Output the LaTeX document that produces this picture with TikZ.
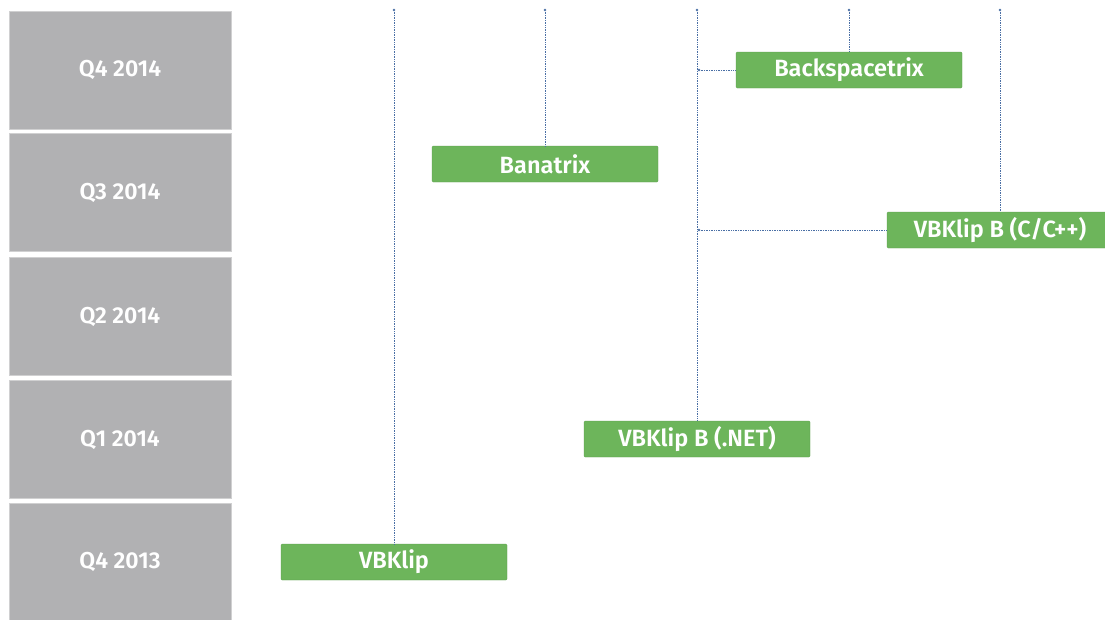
\documentclass[tikz,border=0pt]{standalone}
\usepackage{fontspec}
\setmainfont{Fira Sans}[BoldFont={Fira Sans SemiBold}]
\usepackage{tikz}
\definecolor{qgray}{HTML}{B1B1B3}
\definecolor{pgreen}{HTML}{6DB55B}
\definecolor{lblue}{HTML}{4A6FA5}

\begin{document}
\begin{tikzpicture}[x=1pt,y=-1pt,
  q/.style={rectangle,fill=qgray,draw=qgray!60,line width=.4pt,minimum width=222pt,minimum height=118pt,inner sep=0pt,text=white,font=\fontsize{23}{23}\selectfont\bfseries},
  p/.style={rectangle,fill=pgreen,draw=pgreen!85!black,line width=.3pt,rounded corners=1pt,minimum width=226pt,minimum height=36pt,inner sep=0pt,text=white,font=\fontsize{23.5}{23.5}\selectfont\bfseries},
  tip/.style={circle,fill=lblue,inner sep=0pt,minimum size=2.6pt},
  link/.style={draw=lblue,line width=.9pt,dash pattern=on .7pt off 1pt}
]
  \useasboundingbox (0,0) rectangle (1105,619);
  % quarters
  \node[q] (q1) at (120,70) {Q4 2014};
  \node[q] (q2) at (120,192.5) {Q3 2014};
  \node[q] (q3) at (120,316.5) {Q2 2014};
  \node[q] (q4) at (120,439.5) {Q1 2014};
  \node[q] (q5) at (120,562) {Q4 2013};
  % products
  \node[p] (vbk) at (394,562) {VBKlip};
  \node[p] (ban) at (545,164) {Banatrix};
  \node[p] (net) at (697,439) {VBKlip B (.NET)};
  \node[p] (bsp) at (849,70) {Backspacetrix};
  \node[p] (cpp) at (1000,230) {VBKlip B (C/C++)};
  % tops of the lines
  \node[tip] (t1) at (394,10) {};
  \node[tip] (t2) at (545,10) {};
  \node[tip] (t3) at (697,10) {};
  \node[tip] (t4) at (849,10) {};
  \node[tip] (t5) at (1000,10) {};
  \node[tip] (j1) at (699,70) {};
  \node[tip] (j2) at (699,230) {};
  \draw[link] (t1) -- (vbk.north);
  \draw[link] (t2) -- (ban.north);
  \draw[link] (t3) -- (net.north);
  \draw[link] (t4) -- (bsp.north);
  \draw[link] (t5) -- (cpp.north);
  \draw[link] (j1) -- (bsp.west);
  \draw[link] (j2) -- (cpp.west);
\end{tikzpicture}
\end{document}
